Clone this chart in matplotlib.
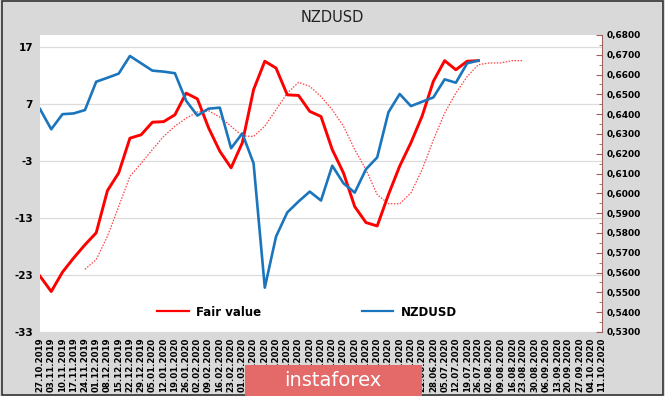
import numpy as np
import matplotlib.pyplot as plt
from matplotlib.patches import Rectangle
from matplotlib.lines import Line2D
from matplotlib.ticker import FuncFormatter, MultipleLocator

# weekly dates on the category axis
dates = ['27.10.2019', '03.11.2019', '10.11.2019', '17.11.2019', '24.11.2019',
         '01.12.2019', '08.12.2019', '15.12.2019', '22.12.2019', '29.12.2019',
         '05.01.2020', '12.01.2020', '19.01.2020', '26.01.2020', '02.02.2020',
         '09.02.2020', '16.02.2020', '23.02.2020', '01.03.2020', '08.03.2020',
         '15.03.2020', '22.03.2020', '29.03.2020', '05.04.2020', '12.04.2020',
         '19.04.2020', '26.04.2020', '03.05.2020', '10.05.2020', '17.05.2020',
         '24.05.2020', '31.05.2020', '07.06.2020', '14.06.2020', '21.06.2020',
         '28.06.2020', '05.07.2020', '12.07.2020', '19.07.2020', '26.07.2020',
         '02.08.2020', '09.08.2020', '16.08.2020', '23.08.2020', '30.08.2020',
         '06.09.2020', '13.09.2020', '20.09.2020', '27.09.2020', '04.10.2020',
         '11.10.2020']

# fair value (left axis), from 27.10.2019 to 26.07.2020
fair_value = [-23.2, -25.9, -22.5, -20.0, -17.7, -15.6, -8.2, -5.1, 1.0, 1.6,
              3.8, 3.9, 5.1, 8.9, 7.9, 2.8, -1.3, -4.2, 0.2, 9.5,
              14.5, 13.3, 8.6, 8.5, 5.7, 4.8, -1.0, -5.1, -11.0, -13.8,
              -14.4, -8.9, -3.9, 0.2, 4.9, 11.0, 14.6, 13.0, 14.5, 14.6]

# smoothed fair value (dotted), from 24.11.2019 to 23.08.2020
fair_smooth = [-22.0, -20.3, -16.2, -11.0, -5.7, -3.4, -1.0, 1.3, 3.1, 4.5,
               5.6, 5.8, 4.7, 3.1, 1.4, 1.3, 3.1, 6.0, 8.9, 10.8,
               10.1, 8.3, 6.0, 3.1, -1.0, -4.5, -8.9, -10.5, -10.5, -8.6,
               -4.5, 0.7, 5.4, 8.9, 11.8, 13.9, 14.2, 14.2, 14.6, 14.6]
smooth_start = 4

# NZDUSD (right axis), from 27.10.2019 to 26.07.2020
nzdusd = [0.6426, 0.6324, 0.6400, 0.6404, 0.6421, 0.6564, 0.6584, 0.6605, 0.6694, 0.6657,
          0.6620, 0.6615, 0.6607, 0.6468, 0.6393, 0.6428, 0.6433, 0.6228, 0.6303, 0.6152,
          0.5524, 0.5782, 0.5904, 0.5959, 0.6009, 0.5964, 0.6140, 0.6051, 0.6004, 0.6122,
          0.6182, 0.6410, 0.6502, 0.6441, 0.6463, 0.6485, 0.6576, 0.6559, 0.6657, 0.6671]

left_ticks = [17, 7, -3, -13, -23, -33]

bg = '#d9d9d9'
fig = plt.figure(figsize=(6.65, 3.96), dpi=100, facecolor=bg)
fig.patches.append(Rectangle((0.003, 0.003), 0.994, 0.994, transform=fig.transFigure,
                             fill=False, edgecolor='#333333', linewidth=1.2))

ax = fig.add_axes([40 / 665, 1 - 332 / 396, 562 / 665, 297 / 396])
ax.set_facecolor('white')
ax2 = ax.twinx()

x_fair = np.arange(len(fair_value))
x_smooth = np.arange(smooth_start, smooth_start + len(fair_smooth))
x_nzd = np.arange(len(nzdusd))

ax.plot(x_smooth, fair_smooth, color='#ff4040', lw=0.9, ls=(0, (1.2, 1.2)))
ax.plot(x_fair, fair_value, color='#ff0000', lw=2.1)
ax2.plot(x_nzd, nzdusd, color='#1b75bc', lw=1.9)

ax.set_xlim(0, len(dates) - 1)
ax.set_ylim(-33, 19.1)
ax.set_yticks(left_ticks)
ax.set_yticklabels([str(t) for t in left_ticks])
ax.grid(axis='y', color='#dcdcdc', lw=0.9)
ax.set_axisbelow(True)
ax.set_xticks(np.arange(len(dates)))
ax.set_xticklabels(dates, rotation=90, fontsize=6.2, fontweight='bold')
ax.tick_params(axis='x', length=0, pad=4)
ax.tick_params(axis='y', length=0, labelsize=7.5, pad=5)
for lab in ax.get_yticklabels():
    lab.set_fontweight('bold')
for s in ['top', 'left', 'right', 'bottom']:
    ax.spines[s].set_visible(False)

ax2.set_ylim(0.53, 0.68)
ax2.yaxis.set_major_locator(MultipleLocator(0.01))
ax2.yaxis.set_minor_locator(MultipleLocator(0.005))
ax2.yaxis.set_major_formatter(FuncFormatter(lambda v, p: f'{v:.4f}'.replace('.', ',')))
ax2.tick_params(axis='y', which='major', direction='in', length=4, color='#a06060',
                labelsize=6.5, pad=3)
ax2.tick_params(axis='y', which='minor', direction='in', length=2.5, color='#a06060')
for lab in ax2.get_yticklabels():
    lab.set_fontweight('bold')
for s in ['top', 'left', 'bottom']:
    ax2.spines[s].set_visible(False)
ax2.spines['right'].set_color('#a06060')
ax2.spines['right'].set_linewidth(0.8)

handles = [Line2D([], [], color='#ff0000', lw=1.6),
           Line2D([], [], color='#1b75bc', lw=1.6)]
leg = ax.legend(handles, ['Fair value', 'NZDUSD'], ncol=2, frameon=False,
                loc='center', bbox_to_anchor=(0.475, 0.067),
                prop={'weight': 'bold', 'size': 8.5},
                handlelength=2.7, columnspacing=8.5, handletextpad=0.6)

fig.text(0.5, 1 - 17 / 396, 'NZDUSD', ha='center', va='center', fontsize=10.5,
         color='#222222')

# logo block at the bottom
fig.patches.append(Rectangle((245 / 665, 0), 177 / 665, 31 / 396, transform=fig.transFigure,
                             facecolor='#e46a6a', edgecolor='none', zorder=5))
fig.text(333 / 665, 1 - 381 / 396, 'instaforex', ha='center', va='center', fontsize=14,
         color='white', zorder=6)

fig.savefig('out.png', dpi=100, facecolor=bg)
